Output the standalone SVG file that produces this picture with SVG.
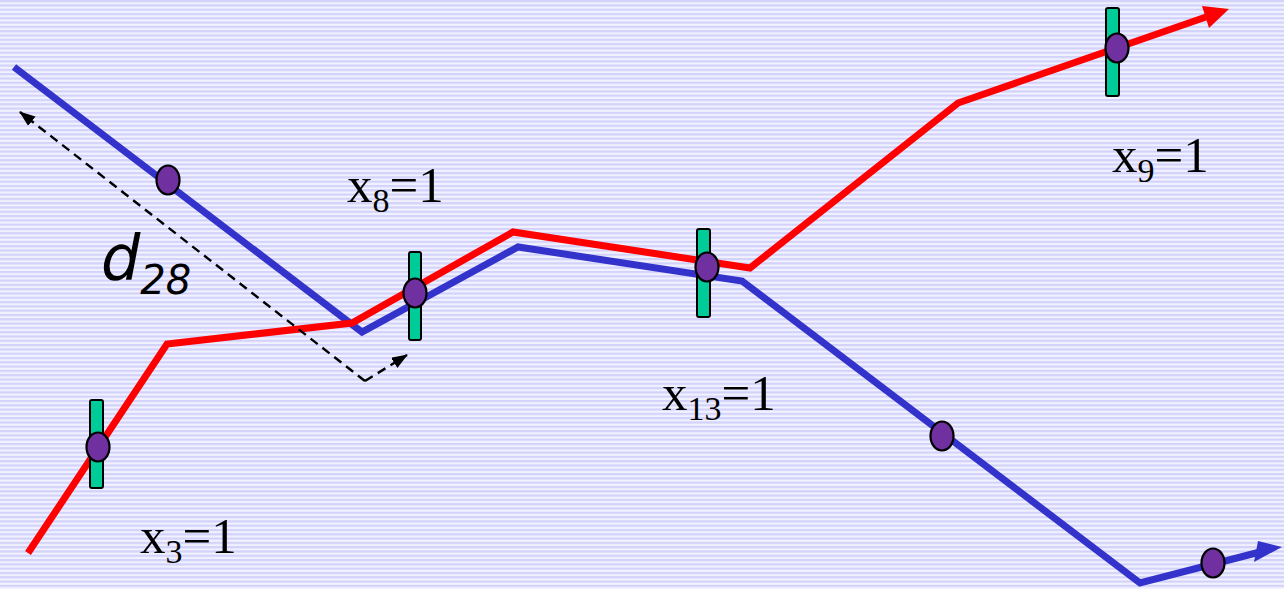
<svg xmlns="http://www.w3.org/2000/svg" width="1284" height="589" viewBox="0 0 1284 589">
<defs>
<pattern id="stripes" x="0" y="0" width="8" height="4.3" patternUnits="userSpaceOnUse">
<rect width="8" height="4.3" fill="#f2f2ff"/>
<rect y="0" width="8" height="2.2" fill="#d2d2fb"/>
</pattern>
<marker id="dashHead" viewBox="0 0 16 12" refX="15" refY="6" markerWidth="16" markerHeight="12" markerUnits="userSpaceOnUse" orient="auto">
<path d="M0,0 L16,6 L0,12 Z" fill="#000"/>
</marker>
<style>
.blue{fill:none;stroke:#3333cc;stroke-width:7;stroke-linejoin:miter}
.red{fill:none;stroke:#ff0000;stroke-width:7;stroke-linejoin:miter}
.bar{fill:#00cc99;stroke:#000;stroke-width:2}
.dot{fill:#7030a0;stroke:#000;stroke-width:2.2}
.lbl{font-family:"Liberation Serif","Times New Roman",serif;font-size:51px;fill:#000}
.sub{font-size:34px}
.dist{font-family:"DejaVu Sans",sans-serif;font-style:italic;fill:#000}
.dash{fill:none;stroke:#000;stroke-width:2.4;stroke-dasharray:9 6}
</style>
</defs>
<rect width="1284" height="589" fill="url(#stripes)"/>
<g id="connectors">
<polyline class="blue" points="14,67 362,332 518,247 742,281 1140,583 1260,552"/>
<polygon points="1282,547 1254,562 1258,541" fill="#3333cc"/>
<polyline class="red" points="28,553 167,344 352,323 513,232 750,268 958,103 1206,17"/>
<polygon points="1229,9 1209,28 1202,6" fill="#ff0000"/>
<polyline class="dash" points="365,381 20,112" marker-end="url(#dashHead)"/>
<polyline class="dash" points="365,381 407,355" marker-end="url(#dashHead)"/>
</g>
<g id="node-x3">
<rect class="bar" x="90" y="400" width="13" height="88" rx="2"/>
<ellipse class="dot" cx="98" cy="447" rx="11.5" ry="14.5"/>
<text class="lbl" x="140" y="553">x<tspan class="sub" dy="10">3</tspan><tspan dy="-10">=1</tspan></text>
</g>
<g id="node-x8">
<rect class="bar" x="409" y="252" width="12" height="88" rx="2"/>
<ellipse class="dot" cx="415" cy="293" rx="11.5" ry="14.5"/>
<text class="lbl" x="347" y="202">x<tspan class="sub" dy="10">8</tspan><tspan dy="-10">=1</tspan></text>
</g>
<g id="node-x13">
<rect class="bar" x="697" y="229" width="13" height="88" rx="2"/>
<ellipse class="dot" cx="707" cy="267" rx="11.5" ry="14.5"/>
<text class="lbl" x="662" y="410">x<tspan class="sub" dy="10">13</tspan><tspan dy="-10">=1</tspan></text>
</g>
<g id="node-x9">
<rect class="bar" x="1106" y="8" width="13" height="88" rx="2"/>
<ellipse class="dot" cx="1117" cy="48" rx="11.5" ry="14.5"/>
<text class="lbl" x="1112" y="172">x<tspan class="sub" dy="10">9</tspan><tspan dy="-10">=1</tspan></text>
</g>
<g id="node-b1">
<ellipse class="dot" cx="168" cy="180" rx="11.5" ry="14.5"/>
</g>
<g id="node-b2">
<ellipse class="dot" cx="942" cy="436" rx="11.5" ry="14.5"/>
</g>
<g id="node-b3">
<ellipse class="dot" cx="1213" cy="563" rx="11.5" ry="14.5"/>
</g>
<g id="label-d28">
<text class="dist" x="101" y="279" font-size="62">d<tspan font-size="40" dy="15">28</tspan></text>
</g>
</svg>
